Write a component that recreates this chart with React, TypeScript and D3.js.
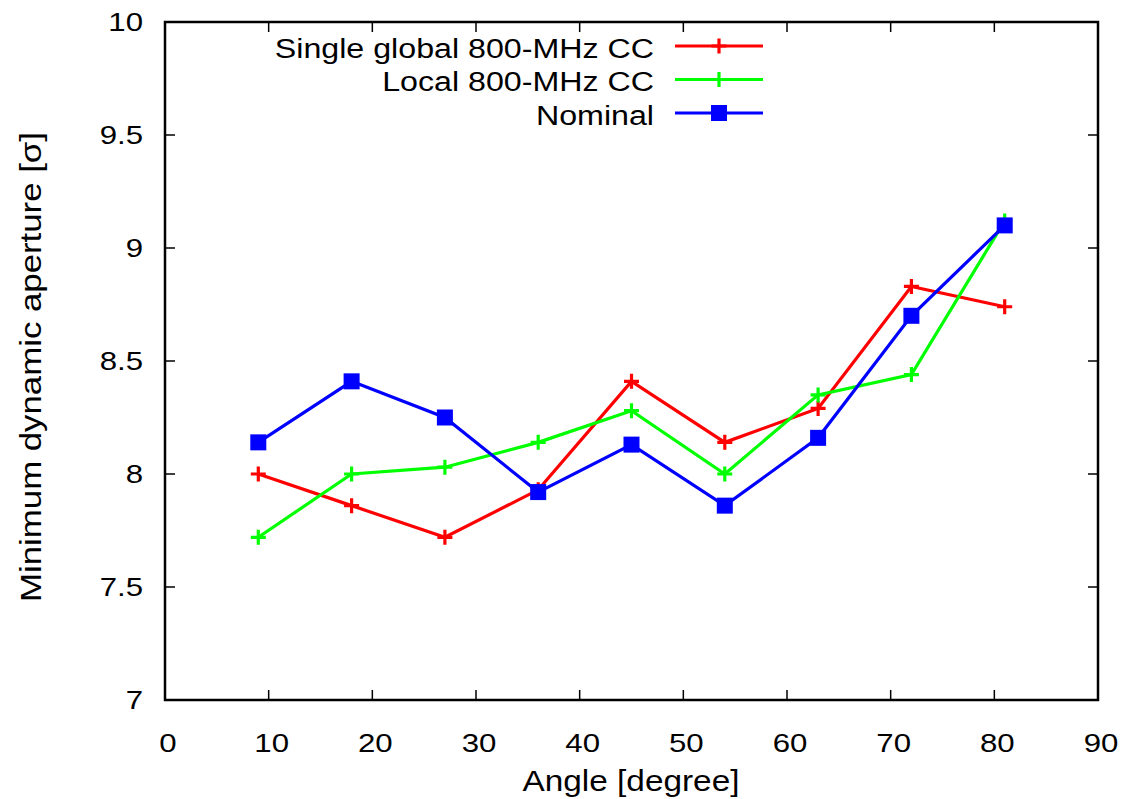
import React from 'react';
import * as d3 from 'd3';

const angles = [9, 18, 27, 36, 45, 54, 63, 72, 81];
const singleGlobal = [8.0, 7.86, 7.72, 7.93, 8.41, 8.14, 8.29, 8.83, 8.74];
const localCC = [7.72, 8.0, 8.03, 8.14, 8.28, 8.0, 8.35, 8.44, 9.12];
const nominal = [8.14, 8.41, 8.25, 7.92, 8.13, 7.86, 8.16, 8.7, 9.1];
const xTicks = [0, 10, 20, 30, 40, 50, 60, 70, 80, 90];
const yTicks = [7, 7.5, 8, 8.5, 9, 9.5, 10];

const series = [
  { name: 'Single global 800-MHz CC', values: singleGlobal, color: '#ff0000', marker: 'plus' },
  { name: 'Local 800-MHz CC', values: localCC, color: '#00ff00', marker: 'plus' },
  { name: 'Nominal', values: nominal, color: '#0000ff', marker: 'square' },
];

const W = 1125;
const H = 799;
const margin = { top: 22, right: 27, bottom: 99, left: 165 };
const font = '"Liberation Sans", Arial, sans-serif';

// gnuplot's Helvetica comes out a bit wider than Liberation Sans, so stretch it
function Label({ x, y, size, anchor = 'middle', rotate = 0, stretch = 1.15, children }) {
  return (
    <g transform={`translate(${x},${y}) rotate(${rotate}) scale(${stretch},1)`}>
      <text textAnchor={anchor} fontSize={size}>
        {children}
      </text>
    </g>
  );
}

function Marker({ x, y, type, color }) {
  if (type === 'square') {
    return <rect x={x - 8} y={y - 8} width={16} height={16} fill={color} />;
  }
  return (
    <path
      d={`M${x - 7.5},${y}H${x + 7.5}M${x},${y - 7.5}V${y + 7.5}`}
      stroke={color}
      strokeWidth={3.2}
    />
  );
}

export default function App() {
  const x = d3
    .scaleLinear()
    .domain([0, 90])
    .range([margin.left, W - margin.right]);
  const y = d3
    .scaleLinear()
    .domain([7, 10])
    .range([H - margin.bottom, margin.top]);

  const line = d3
    .line<number>()
    .x((d, i) => x(angles[i]))
    .y((d) => y(d));

  const [x0, x1] = x.range();
  const [y0, y1] = y.range();

  return (
    <svg
      width={W}
      height={H}
      style={{ position: 'absolute', left: 0, top: 0, background: '#fff' }}
      fontFamily={font}
    >
      {/* ticks, mirrored on all four sides */}
      <g stroke="#000" strokeWidth={1.5}>
        {xTicks.slice(1, -1).map((t) => (
          <g key={'xt' + t}>
            <line x1={x(t)} x2={x(t)} y1={y0} y2={y0 - 10} />
            <line x1={x(t)} x2={x(t)} y1={y1} y2={y1 + 10} />
          </g>
        ))}
        {yTicks.slice(1, -1).map((t) => (
          <g key={'yt' + t}>
            <line x1={x0} x2={x0 + 10} y1={y(t)} y2={y(t)} />
            <line x1={x1} x2={x1 - 10} y1={y(t)} y2={y(t)} />
          </g>
        ))}
      </g>
      <rect
        x={x0}
        y={y1}
        width={x1 - x0}
        height={y0 - y1}
        fill="none"
        stroke="#000"
        strokeWidth={2.5}
      />

      {xTicks.map((t) => (
        <Label key={'xl' + t} x={x(t) + 3} y={y0 + 52} size={26} stretch={1.2}>
          {t}
        </Label>
      ))}
      {yTicks.map((t) => (
        <Label key={'yl' + t} x={x0 - 22} y={y(t) + 9} size={26} anchor="end" stretch={1.2}>
          {t}
        </Label>
      ))}

      <Label x={631} y={791} size={29}>
        Angle [degree]
      </Label>
      <Label x={41} y={367} size={29} rotate={-90} stretch={1.2}>
        Minimum dynamic aperture [σ]
      </Label>

      {series.map((s) => (
        <g key={s.name}>
          <path d={line(s.values)} fill="none" stroke={s.color} strokeWidth={3.2} />
          {s.values.map((v, i) => (
            <Marker key={i} x={x(angles[i])} y={y(v)} type={s.marker} color={s.color} />
          ))}
        </g>
      ))}

      {series.map((s, i) => {
        const ly = 46 + i * 33.5;
        return (
          <g key={'lg' + s.name}>
            <Label x={654} y={ly + 11.5} size={28} anchor="end">
              {s.name}
            </Label>
            <line x1={675} x2={763} y1={ly} y2={ly} stroke={s.color} strokeWidth={3.2} />
            <Marker x={719} y={ly} type={s.marker} color={s.color} />
          </g>
        );
      })}
    </svg>
  );
}
